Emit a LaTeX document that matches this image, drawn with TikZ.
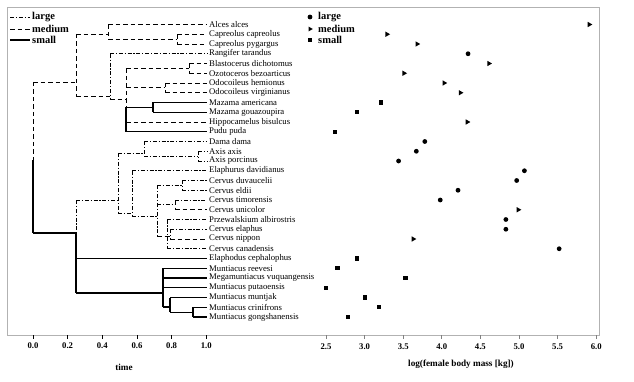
\documentclass[tikz,border=0pt]{standalone}
\usepackage{fontspec}
\setmainfont{Liberation Serif}
\usetikzlibrary{shapes.geometric}
\begin{document}
\begin{tikzpicture}[x=1pt,y=-1pt,
  lg/.style={line width=0.95pt, dash pattern=on 4pt off 1.8pt on 1.2pt off 1.8pt},
  md/.style={line width=0.95pt, dash pattern=on 4.5pt off 3pt},
  sm/.style={line width=1.05pt},
  taxon/.style={anchor=west, inner sep=0pt, font=\fontsize{8.7}{9}\selectfont},
  ticklab/.style={font=\bfseries\fontsize{8.7}{9}\selectfont, inner sep=0pt},
  axtitle/.style={font=\bfseries\fontsize{9.2}{10}\selectfont, inner sep=0pt},
  legtext/.style={anchor=west, font=\bfseries\fontsize{10.5}{11}\selectfont, inner sep=0pt},
  circ/.style={circle, fill, inner sep=0pt, minimum size=4.8pt},
  sq/.style={rectangle, fill, inner sep=0pt, minimum size=4.2pt},
  tri/.style={regular polygon, regular polygon sides=3, shape border rotate=-90, fill, inner sep=0pt, minimum size=6.2pt},
]
\useasboundingbox (0,0) rectangle (634,382);
\draw[gray!60, line width=1pt] (7.5,8) rectangle (599,335);

% internal nodes: name / x / top / bottom / attach
\foreach \n/\x/\t/\b/\a in {
  cap/177/34.25/44/39.1, nac/108/24.5/39.1/34, n1/76/34/96/82,
  n2/110/53.75/99/96, n3/126/68.4/131.75/99, bo/189/63.5/73.25/68.4,
  od/165/83/92.75/87.9, mz/153/102.5/112.25/107.4, root/33/82/233/82,
  L/76/200/293/233, C/118/153/213/200, D/144/141.5/156.1/153,
  AX/198/151.25/161/156.1, E/132/170.75/216/213, F/157/185.4/236/216,
  G/182/180.5/190.25/185.4, H/175/200/209.75/204.9, P/167/219.5/248.75/236,
  Q/170/229.25/239/236, M/163/268.25/307/293, M2/170/297.5/312.1/307,
  M3/193/307.25/317/312.1}{
  \coordinate (\n-t) at (\x,\t);
  \coordinate (\n-b) at (\x,\b);
  \coordinate (\n-a) at (\x,\a);
}
\coordinate (root-m) at (33,160);
\coordinate (L-m) at (76,233);
\coordinate (n3-m) at (126,107.4);

% verticals
\draw[md] (cap-t) -- (cap-b);
\draw[md] (nac-t) -- (nac-b);
\draw[md] (n1-t) -- (n1-b);
\draw[lg] (n2-t) -- (n2-b);
\draw[md] (n3-t) -- (n3-m);
\draw[sm] (n3-m) -- (n3-b);
\draw[md] (bo-t) -- (bo-b);
\draw[md] (od-t) -- (od-b);
\draw[sm] (mz-t) -- (mz-b);
\draw[md] (root-t) -- (root-m);
\draw[sm] (root-m) -- (root-b);
\draw[lg] (L-t) -- (L-m);
\draw[sm] (L-m) -- (L-b);
\draw[lg] (C-t) -- (C-b);
\draw[lg] (D-t) -- (D-b);
\draw[lg] (AX-t) -- (AX-b);
\draw[lg] (E-t) -- (E-b);
\draw[lg] (F-t) -- (F-b);
\draw[lg] (G-t) -- (G-b);
\draw[md] (H-t) -- (H-b);
\draw[lg] (P-t) -- (P-b);
\draw[lg] (Q-t) -- (Q-b);
\draw[sm] (M-t) -- (M-b);
\draw[sm] (M2-t) -- (M2-b);
\draw[sm] (M3-t) -- (M3-b);

% stems: child / parent / style
\foreach \c/\p/\s in {cap/nac/md, nac/n1/md, n1/root/md, n2/n1/md, n3/n2/md,
  bo/n3/md, od/n3/md, mz/n3/sm, L/root/sm, C/L/lg, D/C/lg, AX/D/lg, E/C/lg,
  F/E/lg, G/F/lg, H/F/lg, P/F/md, Q/P/md, M/L/sm, M2/M/sm, M3/M2/sm}{
  \draw[\s] (\c-a -| \p-t) -- (\c-a);
}

% tips: row / name / label / style / parent / value / marker
\foreach \r/\n/\lab/\st/\p/\v/\mk in {
  0/alces/Alces alces/md/nac/5.91/tri,
  1/ccap/Capreolus capreolus/md/cap/3.29/tri,
  2/cpyg/Capreolus pygargus/md/cap/3.68/tri,
  3/rang/Rangifer tarandus/lg/n2/4.34/circ,
  4/blas/Blastocerus dichotomus/md/bo/4.61/tri,
  5/ozot/Ozotoceros bezoarticus/md/bo/3.51/tri,
  6/ohem/Odocoileus hemionus/md/od/4.03/tri,
  7/ovir/Odocoileus virginianus/md/od/4.24/tri,
  8/mame/Mazama americana/sm/mz/3.21/sq,
  9/mgou/Mazama gouazoupira/sm/mz/2.90/sq,
  10/hipp/Hippocamelus bisulcus/md/n3/4.33/tri,
  11/pudu/Pudu puda/sm/n3/2.62/sq,
  12/dama/Dama dama/lg/D/3.78/circ,
  13/aaxi/Axis axis/lg/AX/3.67/circ,
  14/apor/Axis porcinus/lg/AX/3.44/circ,
  15/elap/Elaphurus davidianus/lg/E/5.07/circ,
  16/cduv/Cervus duvaucelii/lg/G/4.97/circ,
  17/celd/Cervus eldii/lg/G/4.21/circ,
  18/ctim/Cervus timorensis/lg/H/3.98/circ,
  19/cuni/Cervus unicolor/md/H/4.99/tri,
  20/prze/Przewalskium albirostris/lg/P/4.83/circ,
  21/cela/Cervus elaphus/lg/Q/4.83/circ,
  22/cnip/Cervus nippon/md/Q/3.63/tri,
  23/ccan/Cervus canadensis/lg/P/5.52/circ,
  24/elph/Elaphodus cephalophus/sm/L/2.90/sq,
  25/mree/Muntiacus reevesi/sm/M/2.65/sq,
  26/mega/Megamuntiacus vuquangensis/sm/M/3.53/sq,
  27/mput/Muntiacus putaoensis/sm/M/2.50/sq,
  28/mmun/Muntiacus muntjak/sm/M2/3.00/sq,
  29/mcri/Muntiacus crinifrons/sm/M3/3.19/sq,
  30/mgon/Muntiacus gongshanensis/sm/M3/2.78/sq}{
  \coordinate (e-\n) at (207,24.5+9.75*\r);
  \coordinate (s-\n) at (e-\n -| \p-t);
  \draw[\st] (s-\n) -- (e-\n);
  \node[taxon] (l-\n) at (209,24.5+9.75*\r) {\lab};
  \node[\mk] (pt-\n) at ({326+77.2*(\v-2.5)},24.5+9.75*\r) {};
}

% left legend
\foreach \y/\s/\t in {17/lg/large, 29/md/medium, 40/sm/small}{
  \coordinate (la-\t) at (10,\y);
  \coordinate (lb-\t) at (30,\y);
  \draw[\s] (la-\t) -- (lb-\t);
  \node[legtext] (lt-\t) at (32,\y) {\t};
}
% right legend
\node[circ] (rm-large) at (310,17) {};
\node[tri, minimum size=5.5pt] (rm-medium) at (310,29) {};
\node[sq] (rm-small) at (310,40) {};
\node[legtext] (rt-large) at (318,17) {large};
\node[legtext] (rt-medium) at (318,29) {medium};
\node[legtext] (rt-small) at (318,40) {small};

% time axis
\foreach \i/\t in {0/0.0,1/0.2,2/0.4,3/0.6,4/0.8,5/1.0}{
  \coordinate (tt-\i) at ({33+173.3*\t},335);
  \coordinate (tb-\i) at ({33+173.3*\t},339);
  \draw[line width=0.8pt] (tt-\i) -- (tb-\i);
  \node[ticklab] (tl-\i) at ({33+173.3*\t},345.5) {\t};
}
\node[axtitle] (timelab) at (124,367) {time};

% mass axis
\foreach \i/\m in {0/2.5,1/3.0,2/3.5,3/4.0,4/4.5,5/5.0,6/5.5,7/6.0}{
  \coordinate (mt-\i) at ({326+77.2*(\m-2.5)},335);
  \coordinate (mb-\i) at ({326+77.2*(\m-2.5)},339);
  \draw[line width=0.8pt, gray] (mt-\i) -- (mb-\i);
  \node[ticklab] (ml-\i) at ({326+77.2*(\m-2.5)},347) {\m};
}
\node[axtitle] (masslab) at (461,364) {log(female body mass [kg])};
\end{tikzpicture}
\end{document}
